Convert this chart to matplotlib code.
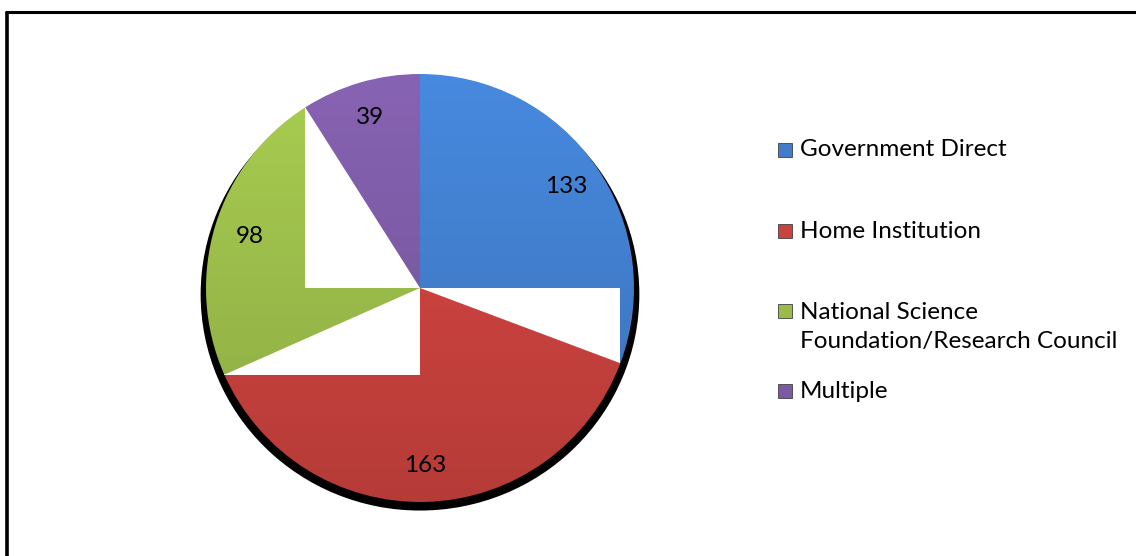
import numpy as np
import matplotlib
matplotlib.use("Agg")
import matplotlib.pyplot as plt
from matplotlib.patches import Rectangle, Ellipse
from matplotlib.colors import to_rgb

# ---- data ----
categories = ["Government Direct", "Home Institution",
              "National Science\nFoundation/Research Council", "Multiple"]
values = [133, 163, 98, 39]
colors = ["#417DCB", "#C9423E", "#9ABB4A", "#7B5AA3"]

# ---- layout ----
W, H = 1136, 556
FONT = ["Lato", "DejaVu Sans"]
FS = 17.5
legend_y = [150, 231, 327, 391]   # pixel centers of legend entries
legend_marker_x = 778
legend_text_x = 800

fig = plt.figure(figsize=(W / 100, H / 100), dpi=100)
fig.patch.set_facecolor("white")

cx, cy, R = 420, 288, 214
ax = fig.add_axes([(cx - R) / W, (H - cy - R) / H, 2 * R / W, 2 * R / H])
ax.set_xlim(-1, 1)
ax.set_ylim(-1, 1)
ax.set_aspect("equal")
ax.axis("off")

wedges, texts = ax.pie(values, colors=colors, startangle=90, counterclock=False,
                       radius=1, labels=[str(v) for v in values], labeldistance=0.83,
                       wedgeprops=dict(linewidth=0),
                       textprops=dict(fontsize=FS, family=FONT, color="black",
                                      ha="center", va="center"))
ax.set_xlim(-1, 1)
ax.set_ylim(-1, 1)

# shadow peeking below the pie
shadow = Ellipse((0, -0.03), 2.05, 2.02, facecolor="black", edgecolor="none",
                 zorder=0, clip_on=False)
ax.add_patch(shadow)

# vertical gradient on each wedge + white box artefacts
yy = np.linspace(1, -1, 256)[:, None] * np.ones((1, 2))
for i, (w, c) in enumerate(zip(wedges, colors)):
    base = np.array(to_rgb(c))
    f = 1.10 - 0.20 * (1 - yy) / 2
    img = np.clip(base[None, None, :] * f[:, :, None], 0, 1)
    im = ax.imshow(img, extent=(-1, 1, -1, 1), origin="upper", zorder=2 * i + 1,
                   interpolation="bilinear", aspect="auto")
    im.set_clip_path(w)
    w.set_facecolor("none")
    w.set_zorder(2 * i + 1.5)
    # white box from centre to the wedge's end point (clockwise end = theta1)
    th = np.deg2rad(w.theta1)
    ex, ey = np.cos(th), np.sin(th)
    box = Rectangle((min(0, ex), min(0, ey)), abs(ex), abs(ey),
                    facecolor="white", edgecolor="none", zorder=2 * i + 2)
    ax.add_patch(box)

for t in texts:
    t.set_zorder(20)

# ---- legend (manual) ----
for lab, c, py in zip(categories, colors, legend_y):
    nlines = lab.count("\n") + 1
    first_line_y = py - (nlines - 1) * 16
    ms = 14
    fig.patches.append(Rectangle((legend_marker_x / W, (H - first_line_y - ms / 2) / H),
                                 ms / W, ms / H, transform=fig.transFigure,
                                 facecolor=c, edgecolor="#404040", linewidth=0.6))
    fig.text(legend_text_x / W, 1 - py / H, lab, fontsize=FS, family=FONT,
             ha="left", va="center", linespacing=1.5)

# frame (left and top edges only visible)
fig.add_artist(plt.Line2D([6.5 / W, 6.5 / W], [0, 1 - 12 / H], transform=fig.transFigure,
                          color="black", linewidth=2.6, solid_capstyle="butt"))
fig.add_artist(plt.Line2D([5 / W, 1], [1 - 12 / H, 1 - 12 / H], transform=fig.transFigure,
                          color="black", linewidth=2.2, solid_capstyle="butt"))

fig.savefig("out.png", dpi=100, facecolor="white")
